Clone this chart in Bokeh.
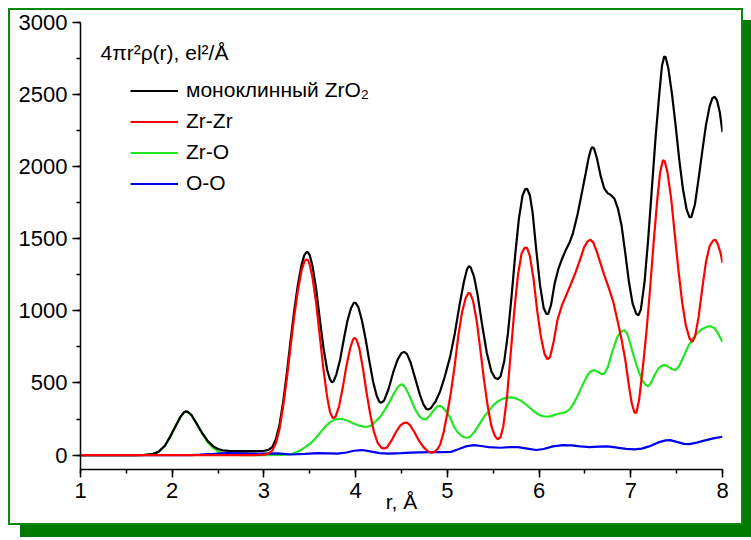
from bokeh.plotting import figure
from bokeh.models import Range1d, SingleIntervalTicker, Legend, LegendItem, Label
from bokeh.embed import file_html
from bokeh.resources import INLINE

# ---- data: (r, value) pairs ----
total_pts = [
    (1.0, 0), (1.6, 0), (1.7, 1), (1.78, 6), (1.85, 22), (1.92, 65), (1.98, 130), (2.04, 205),
    (2.09, 265), (2.13, 298), (2.15, 303), (2.17, 300), (2.21, 278), (2.27, 215), (2.33, 150),
    (2.39, 95), (2.45, 60), (2.50, 42), (2.55, 33), (2.62, 29), (2.75, 27), (2.9, 27), (3.0, 29),
    (3.05, 36), (3.09, 55), (3.13, 110), (3.17, 210), (3.21, 370), (3.25, 570), (3.29, 790),
    (3.33, 1000), (3.37, 1180), (3.41, 1320), (3.44, 1385), (3.465, 1408), (3.48, 1407),
    (3.50, 1385), (3.53, 1310), (3.57, 1150), (3.61, 940), (3.65, 740), (3.69, 590), (3.72, 525),
    (3.74, 505), (3.76, 512), (3.79, 560), (3.83, 660), (3.87, 800), (3.91, 930), (3.95, 1020),
    (3.98, 1055), (4.00, 1056), (4.03, 1025), (4.07, 930), (4.11, 800), (4.15, 650), (4.19, 510),
    (4.23, 410), (4.26, 368), (4.28, 363), (4.31, 378), (4.36, 460), (4.41, 575), (4.46, 665),
    (4.50, 708), (4.53, 715), (4.56, 700), (4.60, 640), (4.65, 530), (4.70, 420), (4.74, 350),
    (4.77, 320), (4.79, 316), (4.82, 325), (4.87, 370), (4.92, 440), (4.97, 540), (5.03, 681),
    (5.08, 840), (5.13, 1030), (5.18, 1200), (5.215, 1290), (5.235, 1310), (5.255, 1300),
    (5.29, 1240), (5.33, 1110), (5.38, 900), (5.43, 710), (5.48, 580), (5.52, 535), (5.55, 527),
    (5.58, 545), (5.62, 650), (5.66, 840), (5.70, 1100), (5.74, 1390), (5.78, 1640), (5.82, 1800),
    (5.85, 1845), (5.87, 1847), (5.90, 1800), (5.93, 1680), (5.97, 1420), (6.01, 1180),
    (6.05, 1020), (6.08, 978), (6.10, 980), (6.13, 1040), (6.17, 1190), (6.21, 1290),
    (6.25, 1360), (6.29, 1420), (6.33, 1470), (6.37, 1540), (6.42, 1670), (6.47, 1830),
    (6.51, 1960), (6.54, 2060), (6.565, 2120), (6.58, 2137), (6.60, 2125), (6.63, 2060),
    (6.67, 1940), (6.71, 1850), (6.75, 1815), (6.78, 1805), (6.82, 1780), (6.86, 1710),
    (6.90, 1590), (6.94, 1400), (6.98, 1200), (7.02, 1050), (7.06, 980), (7.085, 970),
    (7.11, 1010), (7.15, 1200), (7.19, 1500), (7.23, 1850), (7.27, 2200), (7.31, 2500),
    (7.34, 2700), (7.365, 2765), (7.38, 2760), (7.41, 2680), (7.45, 2500), (7.49, 2280),
    (7.53, 2040), (7.57, 1840), (7.61, 1700), (7.64, 1650), (7.66, 1650), (7.70, 1740),
    (7.74, 1920), (7.78, 2110), (7.82, 2290), (7.86, 2420), (7.89, 2475), (7.915, 2485),
    (7.94, 2460), (7.97, 2380), (8.0, 2240)]

zrzr_pts = [
    (1.0, 0), (2.9, 0), (3.0, 3), (3.05, 10), (3.09, 30), (3.13, 80), (3.17, 180), (3.21, 340),
    (3.25, 530), (3.29, 750), (3.33, 960), (3.37, 1140), (3.41, 1280), (3.44, 1340), (3.46, 1357),
    (3.48, 1352), (3.50, 1320), (3.53, 1230), (3.57, 1050), (3.61, 820), (3.65, 590), (3.69, 400),
    (3.72, 300), (3.75, 256), (3.78, 265), (3.82, 340), (3.86, 470), (3.90, 620), (3.94, 740),
    (3.97, 800), (3.99, 813), (4.01, 800), (4.04, 740), (4.08, 600), (4.12, 430), (4.16, 280),
    (4.20, 160), (4.24, 85), (4.28, 52), (4.31, 46), (4.34, 52), (4.39, 100), (4.44, 160),
    (4.49, 208), (4.53, 224), (4.56, 225), (4.59, 210), (4.64, 160), (4.69, 100), (4.74, 55),
    (4.79, 25), (4.83, 16), (4.86, 22), (4.89, 40), (4.92, 70), (4.96, 160), (5.00, 290),
    (5.04, 440), (5.08, 620), (5.12, 830), (5.16, 990), (5.20, 1090), (5.23, 1125), (5.25, 1120),
    (5.28, 1070), (5.32, 930), (5.36, 730), (5.40, 520), (5.44, 340), (5.48, 200), (5.52, 130),
    (5.55, 109), (5.58, 125), (5.61, 200), (5.65, 400), (5.69, 700), (5.73, 1000), (5.77, 1250),
    (5.81, 1400), (5.845, 1440), (5.87, 1435), (5.90, 1380), (5.94, 1220), (5.98, 1000),
    (6.02, 820), (6.06, 700), (6.09, 665), (6.12, 680), (6.16, 790), (6.20, 935), (6.25, 1040),
    (6.30, 1115), (6.35, 1190), (6.40, 1270), (6.45, 1360), (6.49, 1440), (6.53, 1482),
    (6.56, 1494), (6.59, 1475), (6.63, 1410), (6.67, 1330), (6.71, 1250), (6.76, 1160),
    (6.81, 1060), (6.86, 920), (6.90, 800), (6.94, 660), (6.98, 480), (7.01, 360), (7.04, 295),
    (7.06, 292), (7.09, 380), (7.13, 600), (7.17, 850), (7.21, 1150), (7.25, 1480), (7.29, 1780),
    (7.32, 1960), (7.35, 2045), (7.37, 2040), (7.40, 1960), (7.44, 1780), (7.48, 1530),
    (7.52, 1280), (7.56, 1060), (7.60, 900), (7.64, 810), (7.67, 785), (7.70, 820), (7.74, 960),
    (7.78, 1160), (7.82, 1340), (7.86, 1450), (7.90, 1490), (7.925, 1492), (7.95, 1460),
    (7.98, 1400), (8.0, 1333)]

zro_pts = [
    (1.0, 0), (1.6, 0), (1.7, 1), (1.78, 6), (1.85, 22), (1.92, 65), (1.98, 130), (2.04, 205),
    (2.09, 265), (2.13, 296), (2.15, 300), (2.17, 297), (2.21, 276), (2.27, 212), (2.33, 145),
    (2.39, 88), (2.45, 48), (2.50, 25), (2.55, 12), (2.62, 4), (2.75, 0), (3.0, 0), (3.2, 1),
    (3.27, 4), (3.33, 12), (3.39, 30), (3.45, 55), (3.51, 82), (3.57, 122), (3.63, 168),
    (3.68, 205), (3.73, 232), (3.78, 248), (3.82, 252), (3.86, 249), (3.92, 236), (3.98, 219),
    (4.04, 204), (4.09, 197), (4.13, 196), (4.17, 205), (4.22, 235), (4.27, 268), (4.32, 315),
    (4.37, 370), (4.42, 430), (4.46, 472), (4.49, 488), (4.51, 490), (4.54, 470), (4.58, 420),
    (4.62, 360), (4.66, 305), (4.70, 265), (4.74, 248), (4.77, 250), (4.81, 275), (4.85, 310),
    (4.89, 338), (4.92, 342), (4.95, 330), (4.99, 300), (5.03, 262), (5.07, 200), (5.11, 160),
    (5.15, 135), (5.19, 122), (5.22, 120), (5.25, 128), (5.30, 165), (5.35, 215), (5.40, 265),
    (5.45, 305), (5.50, 345), (5.55, 372), (5.60, 390), (5.65, 398), (5.70, 400), (5.75, 393),
    (5.80, 378), (5.85, 355), (5.90, 328), (5.95, 300), (6.00, 280), (6.04, 270), (6.09, 266),
    (6.14, 272), (6.20, 285), (6.25, 292), (6.29, 298), (6.33, 315), (6.37, 350), (6.42, 410),
    (6.47, 480), (6.52, 545), (6.56, 580), (6.60, 589), (6.64, 578), (6.68, 562), (6.71, 563),
    (6.75, 610), (6.80, 720), (6.85, 815), (6.89, 855), (6.93, 866), (6.96, 845), (7.00, 760),
    (7.04, 670), (7.08, 590), (7.12, 525), (7.16, 488), (7.19, 478), (7.22, 500), (7.26, 555),
    (7.30, 600), (7.34, 620), (7.37, 624), (7.41, 612), (7.45, 595), (7.49, 590), (7.53, 620),
    (7.58, 690), (7.63, 760), (7.68, 810), (7.73, 850), (7.78, 875), (7.83, 890), (7.87, 894),
    (7.91, 882), (7.95, 845), (8.0, 785)]

oo_pts = [
    (1.0, 0), (2.2, 0), (2.3, 3), (2.45, 8), (2.6, 14), (2.8, 12), (3.0, 10), (3.15, 12),
    (3.29, 4), (3.45, 8), (3.58, 14), (3.70, 12), (3.80, 10), (3.9, 18), (3.98, 30), (4.07, 35),
    (4.16, 26), (4.26, 14), (4.36, 10), (4.5, 13), (4.6, 17), (4.8, 21), (4.95, 20), (5.04, 22),
    (5.12, 40), (5.2, 60), (5.29, 69), (5.37, 63), (5.45, 55), (5.58, 51), (5.68, 55),
    (5.77, 55), (5.87, 45), (5.97, 35), (6.05, 42), (6.15, 60), (6.26, 69), (6.35, 67),
    (6.45, 60), (6.55, 55), (6.65, 58), (6.75, 60), (6.85, 52), (6.95, 43), (7.04, 39),
    (7.12, 45), (7.2, 60), (7.3, 88), (7.38, 102), (7.43, 104), (7.5, 92), (7.58, 78),
    (7.64, 76), (7.72, 86), (7.8, 100), (7.9, 116), (8.0, 127)]

series_names = ["моноклинный ZrO\u2082", "Zr-Zr", "Zr-O", "O-O"]
y_ticks_interval = 500
x_ticks_interval = 1

FONT = "Liberation Sans"


def split(pts):
    return [a for a, _ in pts], [b for _, b in pts]


p = figure(width=735, height=517, output_backend="svg", toolbar_location=None,
           x_range=Range1d(1, 8), y_range=Range1d(-100, 3000),
           min_border_left=70, min_border_right=23, min_border_top=12,
           min_border_bottom=58)
p.styles = {"border": "2px solid #0a8a0a", "box-shadow": "12px 12px 0px 0px #007a00",
            "margin-left": "8px", "margin-top": "8px"}
p.background_fill_color = "white"
p.border_fill_color = "white"
p.outline_line_color = None
p.grid.visible = False

# draw order: green, blue, black, red
gx, gy = split(zro_pts)
bx, by = split(oo_pts)
kx, ky = split(total_pts)
rx, ry = split(zrzr_pts)
r_g = p.line(gx, gy, line_color="#22e622", line_width=2.2)
r_b = p.line(bx, by, line_color="#0000ee", line_width=2.2)
r_k = p.line(kx, ky, line_color="black", line_width=2.2)
r_r = p.line(rx, ry, line_color="#ff0000", line_width=2.2)

for ax, interval in ((p.xaxis[0], x_ticks_interval), (p.yaxis[0], y_ticks_interval)):
    ax.ticker = SingleIntervalTicker(interval=interval, num_minor_ticks=2)
    ax.axis_line_color = "black"
    ax.axis_line_width = 1.5
    ax.major_tick_line_color = "black"
    ax.minor_tick_line_color = "black"
    ax.major_tick_line_width = 1.5
    ax.minor_tick_line_width = 1.5
    ax.major_tick_in = 0
    ax.major_tick_out = 8
    ax.minor_tick_in = 0
    ax.minor_tick_out = 4
    ax.major_label_text_font = FONT
    ax.major_label_text_font_size = "22px"
    ax.major_label_text_color = "black"

p.yaxis[0].major_label_standoff = 5
p.xaxis[0].major_label_standoff = 5
p.xaxis[0].axis_label = "r, Å"
p.xaxis[0].axis_label_text_font = FONT
p.xaxis[0].axis_label_text_font_size = "21px"
p.xaxis[0].axis_label_text_font_style = "normal"
p.xaxis[0].axis_label_text_color = "black"
p.xaxis[0].axis_label_standoff = -11

legend = Legend(items=[LegendItem(label=series_names[0], renderers=[r_k]),
                       LegendItem(label=series_names[1], renderers=[r_r]),
                       LegendItem(label=series_names[2], renderers=[r_g]),
                       LegendItem(label=series_names[3], renderers=[r_b])],
                location=(50, 274), border_line_color=None, background_fill_alpha=0,
                glyph_width=48, glyph_height=21, label_height=21, spacing=7,
                padding=0, margin=0, label_standoff=8,
                label_text_font=FONT, label_text_font_size="21px",
                label_text_color="black")
p.add_layout(legend)

title = Label(x=1.218, y=2790, text="4πr²ρ(r), el²/Å", text_font=FONT,
              text_font_size="21px", text_baseline="alphabetic", text_color="black")
p.add_layout(title)

open("out.html", "w").write(file_html(p, INLINE))
